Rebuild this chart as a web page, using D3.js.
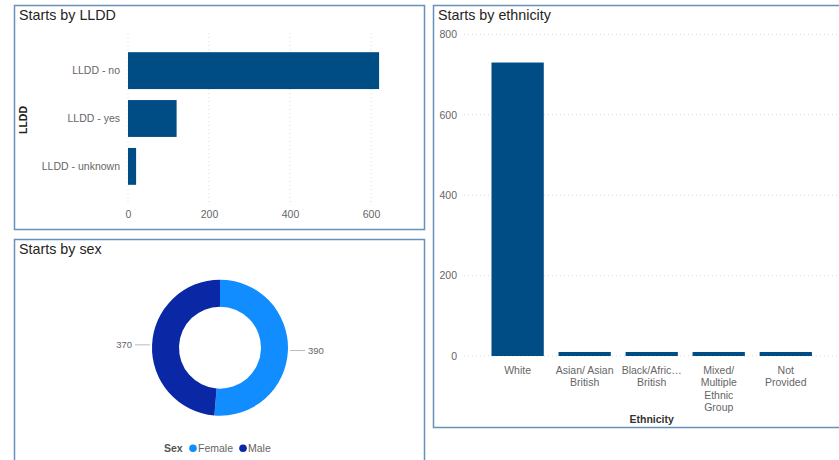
<!DOCTYPE html>
<html>
<head>
<meta charset="utf-8">
<script src="https://cdn.jsdelivr.net/npm/d3@7"></script>
<style>
  html, body { margin: 0; padding: 0; background: #fff; }
  svg { display: block; font-family: "Liberation Sans", Arial, sans-serif; }
</style>
</head>
<body>
<svg id="chart" width="839" height="460"></svg>
<script>
// ---------- DATA ----------
const llddCategories = ["LLDD - no", "LLDD - yes", "LLDD - unknown"];
const llddValues = [620, 120, 20];
const llddTicks = [0, 200, 400, 600];

const sexCategories = ["Female", "Male"];
const sexValues = [390, 370];

const ethnicityCategories = ["White", "Asian/ Asian British", "Black/African/Caribbean/Black British", "Mixed/ Multiple Ethnic Group", "Not Provided"];
const ethnicityValues = [730, 10, 10, 10, 10];
const ethnicityTickLabels = [["White"], ["Asian/ Asian", "British"], ["Black/Afric…", "British"], ["Mixed/", "Multiple", "Ethnic", "Group"], ["Not", "Provided"]];
const ethnicityTicks = [0, 200, 400, 600, 800];

// ---------- STYLE ----------
const barColor = "#004c85";
const sexColors = ["#118dff", "#0a27a6"];
const borderColor = "#6790bd";
const tickColor = "#666666";
const titleColor = "#252423";

const svg = d3.select("#chart");

function panel(x, y, w, h, title, ty) {
  svg.append("rect").attr("x", x).attr("y", y).attr("width", w).attr("height", h)
    .attr("fill", "#fff").attr("stroke", borderColor).attr("stroke-width", 1.5);
  svg.append("text").attr("x", x + 4.5).attr("y", ty).text(title)
    .attr("font-size", 14.3).attr("fill", titleColor);
}

// ---------- PANELS ----------
panel(14.5, 5.5, 410, 224, "Starts by LLDD", 19.5);
panel(14.5, 239.5, 410, 240, "Starts by sex", 253.5);
panel(433.5, 5.5, 430, 422, "Starts by ethnicity", 19.5);

// ---------- LLDD horizontal bar ----------
{
  const x = d3.scaleLinear().domain([0, 700]).range([128, 411.5]);
  const y = d3.scaleBand().domain(llddCategories).range([34, 203]).paddingInner(0.23).paddingOuter(0.38);
  const g = svg.append("g");
  g.selectAll("line.grid").data(llddTicks).join("line")
    .attr("x1", d => x(d)).attr("x2", d => x(d)).attr("y1", 33).attr("y2", 203)
    .attr("stroke", "#d9d9d9").attr("stroke-dasharray", "1,3");
  const xa = g.append("g").attr("transform", "translate(0,205)")
    .call(d3.axisBottom(x).tickValues(llddTicks).tickSize(0).tickPadding(6));
  xa.select(".domain").remove();
  xa.selectAll("text").attr("font-size", 10.5).attr("fill", tickColor)
    .attr("font-family", "Liberation Sans, Arial, sans-serif");
  const ya = g.append("g").attr("transform", "translate(126,0)")
    .call(d3.axisLeft(y).tickSize(0).tickPadding(6));
  ya.select(".domain").remove();
  ya.selectAll("text").attr("font-size", 10.5).attr("fill", tickColor)
    .attr("font-family", "Liberation Sans, Arial, sans-serif");
  g.selectAll("rect.bar").data(llddCategories).join("rect")
    .attr("x", x(0)).attr("y", d => y(d))
    .attr("width", (d, i) => x(llddValues[i]) - x(0)).attr("height", y.bandwidth())
    .attr("fill", barColor);
  g.append("text").attr("transform", "translate(27,120) rotate(-90)")
    .attr("text-anchor", "middle").attr("font-size", 10.5).attr("font-weight", "bold")
    .attr("fill", "#222").text("LLDD");
}

// ---------- Sex donut ----------
{
  const cx = 220, cy = 347.7, rOut = 68, rIn = 41;
  const pie = d3.pie().sort(null).value(d => d)(sexValues);
  const arc = d3.arc().innerRadius(rIn).outerRadius(rOut);
  const g = svg.append("g").attr("transform", `translate(${cx},${cy})`);
  g.selectAll("path").data(pie).join("path")
    .attr("d", arc).attr("fill", (d, i) => sexColors[i]);
  pie.forEach((d, i) => {
    const a = (d.startAngle + d.endAngle) / 2;
    const side = Math.sin(a) >= 0 ? 1 : -1;
    const yy = -Math.cos(a) * (rOut + 1);
    const x1 = side * (rOut + 2), x2 = side * (rOut + 17);
    g.append("line").attr("x1", x1).attr("x2", x2).attr("y1", yy).attr("y2", yy)
      .attr("stroke", "#bbbbbb").attr("stroke-width", 1);
    g.append("text").attr("x", side * (rOut + 20)).attr("y", yy + 3.4)
      .attr("text-anchor", side > 0 ? "start" : "end")
      .attr("font-size", 9.5).attr("fill", tickColor).text(sexValues[i]);
  });
  const lg = svg.append("g");
  lg.append("text").attr("x", 164).attr("y", 452).attr("font-size", 10.5)
    .attr("font-weight", "bold").attr("fill", "#555").text("Sex");
  const lx = [193, 243];
  sexCategories.forEach((c, i) => {
    lg.append("circle").attr("cx", lx[i]).attr("cy", 448.3).attr("r", 3.8).attr("fill", sexColors[i]);
    lg.append("text").attr("x", lx[i] + 5).attr("y", 452).attr("font-size", 10.5)
      .attr("fill", tickColor).text(c);
  });
}

// ---------- Ethnicity column ----------
{
  const y = d3.scaleLinear().domain([0, 800]).range([356, 34.4]);
  const x = d3.scaleBand().domain(ethnicityCategories).range([464, 839.4]).paddingInner(0.22).paddingOuter(0.41);
  const g = svg.append("g");
  g.selectAll("line.grid").data(ethnicityTicks).join("line")
    .attr("x1", 464).attr("x2", 839).attr("y1", d => y(d)).attr("y2", d => y(d))
    .attr("stroke", "#d9d9d9").attr("stroke-dasharray", "1,3");
  const ya = g.append("g").attr("transform", "translate(463,0)")
    .call(d3.axisLeft(y).tickValues(ethnicityTicks).tickSize(0).tickPadding(6));
  ya.select(".domain").remove();
  ya.selectAll("text").attr("font-size", 10.5).attr("fill", tickColor)
    .attr("font-family", "Liberation Sans, Arial, sans-serif");
  g.selectAll("rect.bar").data(ethnicityCategories).join("rect")
    .attr("x", d => x(d)).attr("y", (d, i) => y(ethnicityValues[i]))
    .attr("width", x.bandwidth()).attr("height", (d, i) => y(0) - y(ethnicityValues[i]))
    .attr("fill", barColor);
  ethnicityCategories.forEach((c, i) => {
    const t = g.append("text").attr("text-anchor", "middle").attr("font-size", 10.5)
      .attr("fill", tickColor);
    ethnicityTickLabels[i].forEach((line, j) => {
      t.append("tspan").attr("x", x(c) + x.bandwidth() / 2).attr("y", 373.7 + j * 12.4).text(line);
    });
  });
  g.append("text").attr("x", (464 + 839.4) / 2).attr("y", 422.5).attr("text-anchor", "middle")
    .attr("font-size", 10.5).attr("font-weight", "bold").attr("fill", "#333").text("Ethnicity");
}
</script>
</body>
</html>
